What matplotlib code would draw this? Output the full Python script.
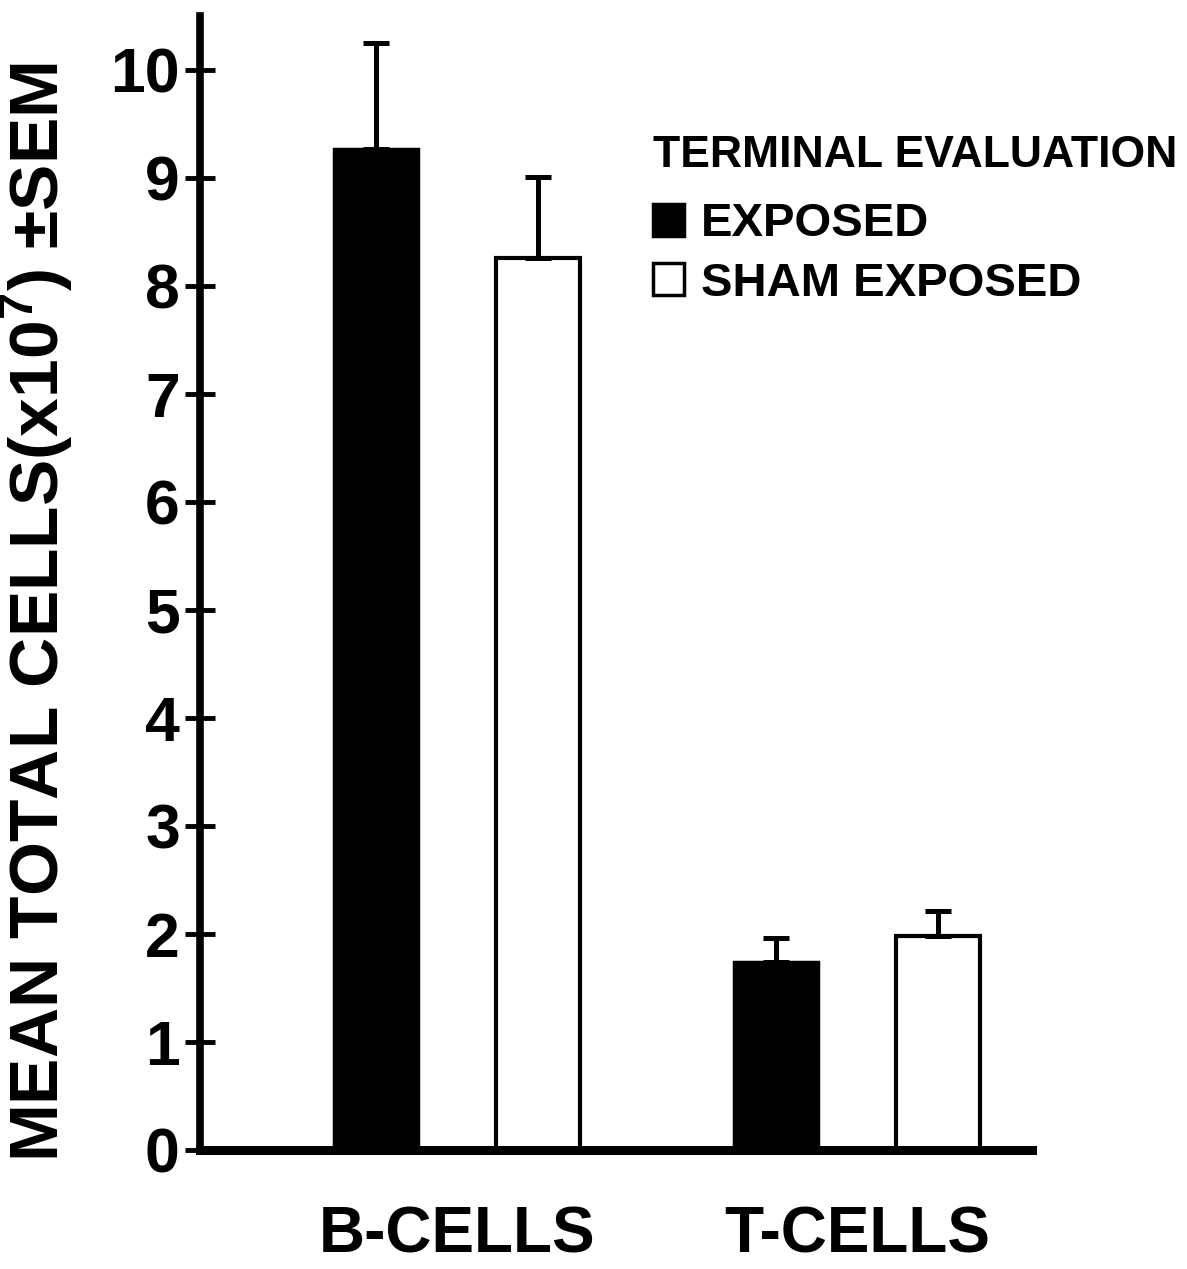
import matplotlib
matplotlib.use("Agg")
import matplotlib.pyplot as plt
import numpy as np

plt.rcParams['font.family'] = ['Liberation Sans', 'DejaVu Sans']
plt.rcParams['font.weight'] = 'bold'
plt.rcParams['mathtext.fontset'] = 'custom'
plt.rcParams['mathtext.rm'] = 'Liberation Sans:bold'
plt.rcParams['mathtext.it'] = 'Liberation Sans:bold'
plt.rcParams['mathtext.bf'] = 'Liberation Sans:bold'

# data
cell_types = ["B-CELLS", "T-CELLS"]
exposed_mean = [9.27, 1.74]
exposed_sem = [0.98, 0.22]
sham_mean = [8.26, 1.98]
sham_sem = [0.75, 0.23]
y_ticks = [0, 1, 2, 3, 4, 5, 6, 7, 8, 9, 10]

fig = plt.figure(figsize=(11.87, 12.69), dpi=100)
ax = fig.add_axes([0.1685, 0.0938, 0.701, 0.8936])

x = np.arange(len(cell_types))
width = 0.21
offset = 0.2025

err_kw = dict(ecolor="black", elinewidth=3.6, capsize=9.5, capthick=3.6)
ax.bar(x - offset, exposed_mean, width, color="black", edgecolor="black",
       linewidth=2.5, label="EXPOSED",
       yerr=[np.zeros(len(x)), exposed_sem], error_kw=err_kw)
ax.bar(x + offset, sham_mean, width, color="white", edgecolor="black",
       linewidth=3, label="SHAM EXPOSED",
       yerr=[np.zeros(len(x)), sham_sem], error_kw=err_kw)

ax.set_xlim(-0.6425, 1.4375)
ax.set_ylim(0, 10.5)

ax.spines["top"].set_visible(False)
ax.spines["right"].set_visible(False)
ax.spines["left"].set_linewidth(5.5)
ax.spines["bottom"].set_linewidth(6.5)

ax.set_yticks(y_ticks)
ax.set_yticklabels([str(t) for t in y_ticks], fontsize=45, fontweight="bold")
ax.tick_params(axis="y", direction="inout", length=21, width=3.5, pad=4)

ax.set_xticks(x)
ax.set_xticklabels(cell_types, fontsize=46, fontweight="bold")
ax.tick_params(axis="x", length=0, pad=40)

ax.set_ylabel(r"MEAN TOTAL CELLS(x10$^7$) ±SEM", fontsize=50, fontweight="bold")
ax.yaxis.set_label_coords(-0.15, 0.474)

leg = ax.legend(loc="upper left", bbox_to_anchor=(0.545, 0.895), frameon=False,
                title="TERMINAL EVALUATION", fontsize=34,
                title_fontproperties={"size": 32, "weight": "bold"},
                handlelength=0.65, handleheight=0.65, handletextpad=0.35,
                labelspacing=0.32, borderaxespad=0, borderpad=0)
leg._legend_box.align = "left"
leg._legend_box.sep = 19
for h in leg.legend_handles:
    h.set_linewidth(2.5)

fig.savefig("out.png", dpi=100)
